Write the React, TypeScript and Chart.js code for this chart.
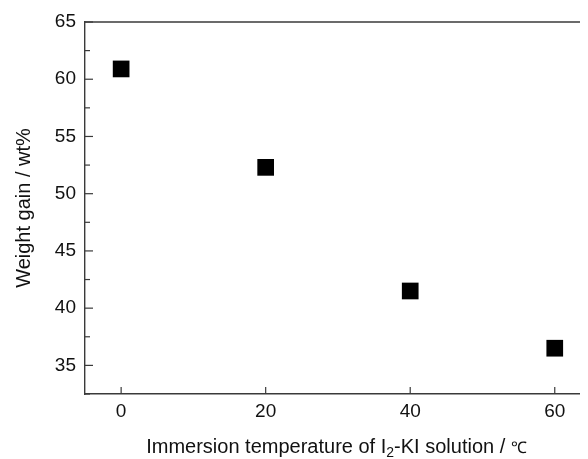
import React, { useEffect, useRef } from "react";
import { Chart, registerables } from "chart.js";

Chart.register(...registerables);

const temperatures = [0, 20, 40, 60];
const weightGain = [60.9, 52.3, 41.5, 36.5];
const xTickValues = [0, 20, 40, 60];
const yTitle = "Weight gain / wt%";
const xTitleParts = [
  { text: "Immersion temperature of I", size: 20, dy: 0 },
  { text: "2", size: 14, dy: 4 },
  { text: "-KI solution / ", size: 20, dy: 0 },
  { text: "℃", size: 16, dy: 0 },
];

const FONT = "'Liberation Sans', Arial, sans-serif";
const AXIS_COLOR = "#3a3a3a";

const framePlugin = {
  id: "frame",
  afterDraw(chart: any) {
    const { ctx, chartArea, scales } = chart;
    const xs = scales.x;
    const ys = scales.y;
    ctx.save();
    ctx.strokeStyle = AXIS_COLOR;
    ctx.lineWidth = 1.4;
    ctx.beginPath();
    ctx.moveTo(chartArea.left, chartArea.top);
    ctx.lineTo(chartArea.right, chartArea.top);
    ctx.stroke();
    ctx.lineWidth = 1.2;
    xs.ticks.forEach((t: any) => {
      const px = xs.getPixelForValue(t.value);
      ctx.beginPath();
      ctx.moveTo(px, chartArea.bottom);
      ctx.lineTo(px, chartArea.bottom - 7);
      ctx.stroke();
    });
    ys.ticks.forEach((t: any) => {
      const py = ys.getPixelForValue(t.value);
      const major = Math.abs(t.value % 5) < 1e-6;
      ctx.beginPath();
      ctx.moveTo(chartArea.left, py);
      ctx.lineTo(chartArea.left + (major ? 8 : 5), py);
      ctx.stroke();
    });
    let total = 0;
    xTitleParts.forEach((p) => {
      ctx.font = `${p.size}px ${FONT}`;
      total += ctx.measureText(p.text).width;
    });
    let x = (chartArea.left + chartArea.right) / 2 - total / 2;
    const yBase = chartArea.bottom + 59;
    ctx.fillStyle = "#111";
    ctx.textBaseline = "alphabetic";
    ctx.textAlign = "left";
    xTitleParts.forEach((p) => {
      ctx.font = `${p.size}px ${FONT}`;
      ctx.fillText(p.text, x, yBase + p.dy);
      x += ctx.measureText(p.text).width;
    });
    ctx.restore();
  },
};

export default function App() {
  const ref = useRef<HTMLCanvasElement | null>(null);
  useEffect(() => {
    document.body.style.overflow = "hidden";
    if (!ref.current) return;
    const chart = new Chart(ref.current, {
      type: "scatter",
      data: {
        datasets: [
          {
            data: temperatures.map((t, i) => ({ x: t, y: weightGain[i] })),
            pointStyle: "rect",
            pointRadius: 11.8,
            pointHoverRadius: 11.8,
            backgroundColor: "#000",
            borderWidth: 0,
          },
        ],
      },
      options: {
        animation: false,
        responsive: false,
        maintainAspectRatio: false,
        layout: { autoPadding: false, padding: { top: 14, right: 0, left: 4, bottom: 0 } },
        plugins: {
          legend: { display: false },
          tooltip: { enabled: false },
          title: { display: false },
        },
        scales: {
          x: {
            type: "linear",
            min: -5,
            max: 64.6,
            afterBuildTicks: (s: any) => {
              s.ticks = xTickValues.map((v) => ({ value: v }));
            },
            afterFit: (s: any) => {
              s.height = 65;
              s.paddingLeft = 0;
              s.paddingRight = 0;
            },
            ticks: {
              includeBounds: false,
              color: "#111",
              font: { family: FONT, size: 19 },
              padding: 6,
              maxRotation: 0,
            },
            grid: { display: false, drawTicks: false },
            border: { display: true, color: AXIS_COLOR, width: 1.4 },
            title: { display: false },
          },
          y: {
            type: "linear",
            min: 32.5,
            max: 65,
            afterFit: (s: any) => {
              s.width = 73;
              s.paddingTop = 0;
              s.paddingBottom = 0;
            },
            ticks: {
              stepSize: 2.5,
              autoSkip: false,
              color: "#111",
              font: { family: FONT, size: 19 },
              padding: 9,
              callback: (v: any) => (Math.abs(v % 5) < 1e-6 ? String(v) : ""),
            },
            grid: { display: false, drawTicks: false },
            border: { display: true, color: AXIS_COLOR, width: 1.4 },
            title: {
              display: true,
              text: yTitle,
              color: "#111",
              font: { family: FONT, size: 20 },
              padding: { top: 0, bottom: 4 },
            },
          },
        },
      },
      plugins: [framePlugin],
    });
    return () => chart.destroy();
  }, []);
  return (
    <div style={{ width: 580, height: 451 }}>
      <canvas ref={ref} width={580} height={451} style={{ display: "block" }} />
    </div>
  );
}
